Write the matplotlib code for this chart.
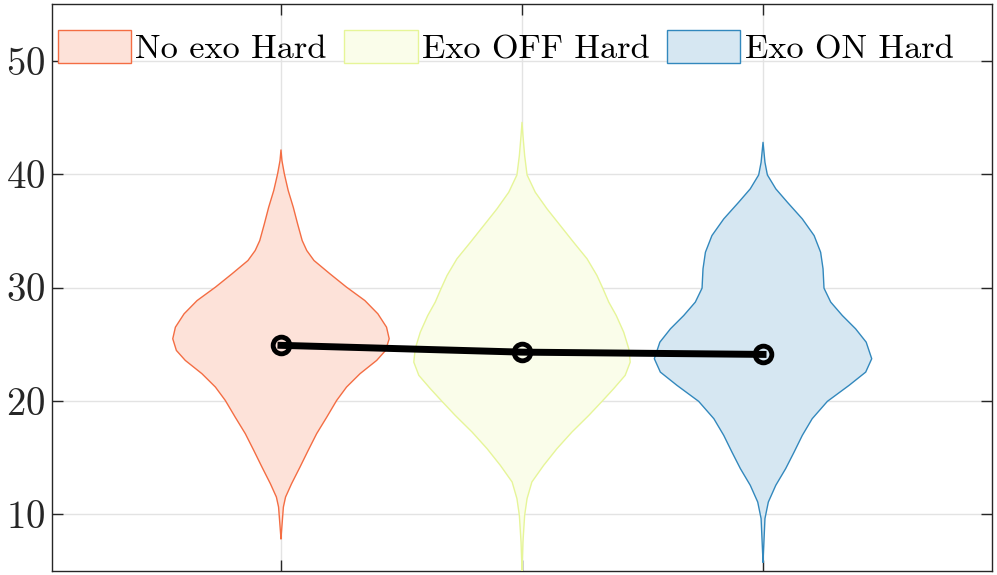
import numpy as np
import matplotlib
matplotlib.use('Agg')
import matplotlib.pyplot as plt
from matplotlib.colors import to_rgb

plt.rcParams['font.family'] = ['cmr10', 'DejaVu Serif']
plt.rcParams['mathtext.fontset'] = 'cm'
plt.rcParams['axes.formatter.use_mathtext'] = True

labels = ['No exo Hard', 'Exo OFF Hard', 'Exo ON Hard']
colors = ['#F46D43', '#E6F598', '#3288BD']
positions = [1, 2, 3]

# violin outlines: value levels and half widths
v1_y = [7.86, 10.64, 11.52, 12.70, 14.17, 15.64, 17.11, 18.57, 20.04, 21.22, 22.40,
        23.57, 24.45, 25.48, 26.50, 27.68, 28.85, 30.03, 31.21, 32.38, 33.26, 34.14,
        35.61, 37.08, 38.55, 40.02, 41.19, 42.13]
v1_w = [0, .010, .019, .044, .079, .113, .148, .190, .231, .272, .328,
        .397, .434, .449, .438, .402, .348, .272, .203, .137, .107, .088,
        .069, .051, .030, .014, .004, 0]

v2_y = [5.07, 7.56, 9.91, 11.38, 12.85, 14.32, 15.79, 17.25, 18.72, 19.96, 21.07,
        22.25, 23.42, 24.60, 26.06, 27.53, 28.71, 29.94, 31.06, 32.53, 33.99, 35.46,
        36.93, 38.40, 39.93, 41.63, 43.39, 44.56]
v2_w = [0, .004, .011, .021, .041, .090, .145, .207, .277, .332, .380,
        .428, .449, .443, .422, .391, .360, .335, .311, .270, .214, .159,
        .104, .055, .021, .011, .004, 0]

v3_y = [5.80, 9.62, 11.08, 12.56, 14.03, 15.49, 16.96, 18.43, 19.96, 21.37, 22.54,
        23.72, 25.18, 26.36, 27.53, 28.71, 29.94, 31.65, 33.11, 34.58, 36.05, 37.52,
        38.70, 39.93, 41.04, 42.80]
v3_w = [0, .008, .022, .053, .094, .129, .163, .204, .267, .357, .426,
        .451, .428, .384, .329, .281, .253, .249, .239, .212, .163, .101,
        .053, .018, .008, 0]

means = [24.9, 24.3, 24.1]


def light(c, a=0.2):
    r = np.array(to_rgb(c))
    return tuple(1 - a * (1 - r))


fig = plt.figure(figsize=(9.97, 5.75), dpi=100)
ax = fig.add_axes([52/997, 4/575, 940/997, 567/575])

for pos, y, w, c, lab in zip(positions, [v1_y, v2_y, v3_y], [v1_w, v2_w, v3_w], colors, labels):
    y = np.array(y)
    w = np.array(w)
    ax.fill_betweenx(y, pos - w, pos + w, facecolor=light(c), edgecolor='none', zorder=2)
    xs = np.concatenate([pos - w, (pos + w)[::-1]])
    ys = np.concatenate([y, y[::-1]])
    ax.plot(xs, ys, color=c, lw=1.0, zorder=3)
    # legend proxy
    ax.fill_between([], [], [], facecolor=light(c), edgecolor=c, lw=1.0, label=lab)

ax.plot(positions, means, color='k', lw=5, marker='o', ms=12, mfc='none', mec='k', mew=3.5,
        zorder=5)

ax.set_xlim(0.05, 3.95)
ax.set_ylim(5, 55)
ax.set_xticks(positions)
ax.set_xticklabels([])
ax.set_yticks([10, 20, 30, 40, 50])
ax.tick_params(direction='in', length=8, width=1, colors='#262626', labelsize=28,
               top=True, right=True)
ax.tick_params(axis='y', pad=5)
ax.grid(True, color='#e3e3e3', lw=1)
ax.set_axisbelow(True)
for s in ax.spines.values():
    s.set_color('#262626')
    s.set_linewidth(1)

ax.legend(loc='upper left', bbox_to_anchor=(-0.005, 0.972), ncol=3, frameon=False,
          fontsize=24.7, handlelength=2.15, handleheight=1.1, handletextpad=0.12,
          columnspacing=0.5, borderaxespad=0.2, borderpad=0.1)

fig.savefig('out.png', dpi=100)
